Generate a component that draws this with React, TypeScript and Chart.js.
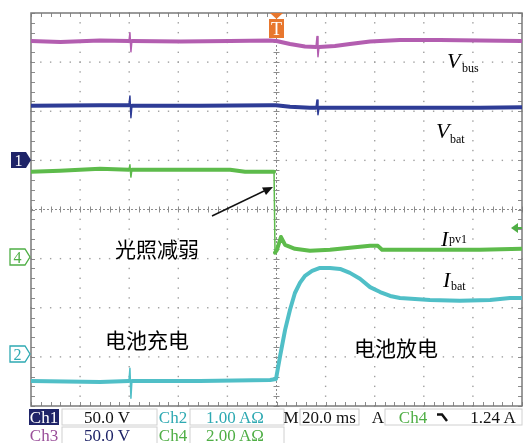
import React, { useEffect, useRef } from "react";
import { Chart, registerables } from "chart.js";

Chart.register(...registerables);

// Oscilloscope time base: 20 ms / div, 10 divisions, trigger at 0 ms
const timePerDivMs = 20;
const timeMinMs = -100;
const timeMaxMs = 100;
const verticalDivisions = 8;

// Vbus (Ch3) — screen divisions from bottom
const vbusTime = [-100, -88, -72, -60.1, -59.7, -59.3, -58.9, -39, -19, -2.6, 0, 5.5, 11.6, 16.1, 16.5, 16.9, 17.3, 23.8, 29.9, 38.1, 50.3, 66.6, 82.9, 100];
const vbusDiv = [7.43, 7.41, 7.44, 7.43, 7.6, 7.21, 7.43, 7.42, 7.43, 7.44, 7.43, 7.37, 7.32, 7.31, 7.52, 7.11, 7.31, 7.33, 7.37, 7.42, 7.45, 7.45, 7.44, 7.43];

// Vbat (Ch1)
const vbatTime = [-100, -71.9, -60.1, -59.7, -59.3, -58.9, -31.2, -2.6, -0.2, 5.5, 13.6, 16.1, 16.5, 16.9, 17.3, 34.0, 58.4, 82.9, 100];
const vbatDiv = [6.11, 6.12, 6.12, 6.31, 5.87, 6.11, 6.11, 6.12, 6.12, 6.09, 6.07, 6.07, 6.23, 5.93, 6.07, 6.07, 6.07, 6.07, 6.08];

// Ipv1 (Ch4)
const ipv1Time = [-100, -88.2, -71.9, -60.1, -59.7, -59.3, -58.9, -39.3, -18.9, -12.8, -2.6, -1.0, -0.6, 0.2, 1.8, 3.5, 7.5, 13.6, 21.8, 29.9, 38.1, 41.3, 43.0, 58.4, 82.9, 100];
const ipv1Div = [4.77, 4.79, 4.83, 4.81, 4.91, 4.66, 4.81, 4.81, 4.81, 4.77, 4.77, 4.77, 3.12, 3.18, 3.44, 3.28, 3.2, 3.16, 3.18, 3.22, 3.26, 3.26, 3.18, 3.18, 3.18, 3.2];

// Ibat (Ch2)
const ibatTime = [-100, -71.9, -60.1, -59.7, -59.3, -58.9, -31.2, -2.6, -0.2, 1.4, 3.5, 5.5, 7.5, 9.6, 11.6, 14.5, 17.7, 21.8, 25.9, 29.9, 34.0, 38.1, 42.2, 46.3, 50.3, 62.5, 74.7, 87.0, 95.1, 100];
const ibatDiv = [0.51, 0.49, 0.51, 0.77, 0.16, 0.51, 0.51, 0.53, 0.55, 1.0, 1.55, 1.96, 2.3, 2.51, 2.65, 2.75, 2.81, 2.81, 2.79, 2.71, 2.59, 2.42, 2.32, 2.24, 2.2, 2.16, 2.14, 2.16, 2.2, 2.2];

const traceColors = { vbus: "#b35eb0", vbat: "#2e3c96", ipv1: "#5dbb4b", ibat: "#50bfc7" };

const pts = (t: number[], v: number[]) => t.map((x, i) => ({ x, y: v[i] }));

const gridPlugin = {
  id: "scopeGrid",
  beforeDatasetsDraw(chart: any) {
    const { ctx, chartArea } = chart;
    const { left, top, right, bottom } = chartArea;
    const xs = chart.scales.x;
    const ys = chart.scales.y;
    const nx = (timeMaxMs - timeMinMs) / timePerDivMs;
    ctx.save();
    ctx.fillStyle = "#a0a0a0";
    for (let i = 1; i < nx; i++) {
      if (i === nx / 2) continue;
      const px = xs.getPixelForValue(timeMinMs + i * timePerDivMs);
      for (let k = 0; k <= verticalDivisions * 5; k++) {
        const py = ys.getPixelForValue(k * 0.2);
        ctx.fillRect(px - 0.7, py - 0.7, 1.4, 1.4);
      }
    }
    for (let j = 1; j < verticalDivisions; j++) {
      if (j === verticalDivisions / 2) continue;
      const py = ys.getPixelForValue(j);
      for (let k = 0; k <= nx * 5; k++) {
        const px = xs.getPixelForValue(timeMinMs + k * (timePerDivMs / 5));
        ctx.fillRect(px - 0.7, py - 0.7, 1.4, 1.4);
      }
    }
    const cx = xs.getPixelForValue(0);
    const cy = ys.getPixelForValue(verticalDivisions / 2);
    ctx.strokeStyle = "#8c8c8c";
    ctx.lineWidth = 1;
    ctx.beginPath();
    for (let k = 0; k <= nx * 5; k++) {
      const px = Math.round(xs.getPixelForValue(timeMinMs + k * (timePerDivMs / 5))) + 0.5;
      ctx.moveTo(px, cy - 3);
      ctx.lineTo(px, cy + 3);
      ctx.moveTo(px, top);
      ctx.lineTo(px, top + 4);
      ctx.moveTo(px, bottom - 4);
      ctx.lineTo(px, bottom);
    }
    for (let k = 0; k <= verticalDivisions * 5; k++) {
      const py = Math.round(ys.getPixelForValue(k * 0.2)) + 0.5;
      ctx.moveTo(cx - 3, py);
      ctx.lineTo(cx + 3, py);
      ctx.moveTo(left, py);
      ctx.lineTo(left + 4, py);
      ctx.moveTo(right - 4, py);
      ctx.lineTo(right, py);
    }
    ctx.stroke();
    ctx.setLineDash([2, 2]);
    ctx.beginPath();
    ctx.moveTo(left, cy);
    ctx.lineTo(right, cy);
    ctx.moveTo(cx, top);
    ctx.lineTo(cx, bottom);
    ctx.stroke();
    ctx.setLineDash([]);
    ctx.strokeStyle = "#7a7a7a";
    ctx.lineWidth = 1.5;
    ctx.strokeRect(left, top, right - left, bottom - top);
    ctx.restore();
  },
};

const serif = "'Liberation Serif', 'DejaVu Serif', serif";
const cjk = "'Noto Sans CJK SC', sans-serif";

export default function App() {
  const canvasRef = useRef<HTMLCanvasElement | null>(null);

  useEffect(() => {
    if (!canvasRef.current) return;
    const mk = (label: string, t: number[], v: number[], color: string) => ({
      label,
      data: pts(t, v),
      borderColor: color,
      backgroundColor: color,
      borderWidth: 4,
      pointRadius: 0,
      tension: 0,
      fill: false,
      borderJoinStyle: "round" as const,
      borderCapStyle: "round" as const,
      segment: {
        borderWidth: (c: any) => (Math.abs(c.p1.parsed.x - c.p0.parsed.x) < 0.5 ? 1.5 : 4),
      },
    });
    const chart = new Chart(canvasRef.current, {
      type: "line",
      data: {
        datasets: [
          mk("Vbus", vbusTime, vbusDiv, traceColors.vbus),
          mk("Vbat", vbatTime, vbatDiv, traceColors.vbat),
          mk("Ipv1", ipv1Time, ipv1Div, traceColors.ipv1),
          mk("Ibat", ibatTime, ibatDiv, traceColors.ibat),
        ],
      },
      options: {
        responsive: false,
        animation: false,
        devicePixelRatio: 1,
        layout: { padding: { left: 31, top: 13, right: 3, bottom: 37 } },
        scales: {
          x: { type: "linear", min: timeMinMs, max: timeMaxMs, display: false },
          y: { type: "linear", min: 0, max: verticalDivisions, display: false },
        },
        plugins: { legend: { display: false }, tooltip: { enabled: false } },
      },
      plugins: [gridPlugin],
    });
    return () => chart.destroy();
  }, []);

  const green = "#4fae45";
  const cyan = "#2ea9b2";
  const navy = "#1f2468";
  const purple = "#9a4f9a";
  const orange = "#e8772e";

  return (
    <div style={{ position: "absolute", left: 0, top: 0, width: 525, height: 443, background: "#fff", overflow: "hidden" }}>
      <canvas ref={canvasRef} width={525} height={443} style={{ position: "absolute", left: 0, top: 0 }} />
      <svg width={525} height={443} style={{ position: "absolute", left: 0, top: 0, pointerEvents: "none" }}>
        <path d="M11,152 H26 L31,160 L26,168 H11 Z" fill={navy} />
        <text x={18.5} y={166} fill="#fff" fontFamily={serif} fontSize={16} textAnchor="middle">1</text>
        <path d="M10,249 H25 L30,257 L25,265 H10 Z" fill="#fff" stroke={green} strokeWidth={1.3} />
        <text x={17.5} y={263} fill={green} fontFamily={serif} fontSize={16} textAnchor="middle">4</text>
        <path d="M10,346 H25 L30,354 L25,362 H10 Z" fill="#fff" stroke={cyan} strokeWidth={1.3} />
        <text x={17.5} y={360} fill={cyan} fontFamily={serif} fontSize={16} textAnchor="middle">2</text>
        <path d="M511,228 L518,223 L518,233 Z" fill={green} />
        <line x1={517} y1={228} x2={522} y2={228} stroke={green} strokeWidth={2} />
        <path d="M270,13 L283,13 L276.5,19 Z" fill={orange} />
        <rect x={269} y={19} width={15} height={19} fill={orange} />
        <text x={276.5} y={35} fill="#fff" fontFamily={serif} fontSize={18} textAnchor="middle">T</text>

        <text x={447} y={68} fontFamily={serif} fontSize={22} fontStyle="italic">V</text>
        <text x={462} y={72} fontFamily={serif} fontSize={12}>bus</text>
        <text x={436} y={138} fontFamily={serif} fontSize={22} fontStyle="italic">V</text>
        <text x={450} y={143} fontFamily={serif} fontSize={12}>bat</text>
        <text x={441} y={246} fontFamily={serif} fontSize={22} fontStyle="italic">I</text>
        <text x={449} y={243} fontFamily={serif} fontSize={12}>pv1</text>
        <text x={443} y={287} fontFamily={serif} fontSize={22} fontStyle="italic">I</text>
        <text x={451} y={290} fontFamily={serif} fontSize={12}>bat</text>

        <text x={115} y={257} fontFamily={cjk} fontSize={21}>光照减弱</text>
        <text x={105} y={348} fontFamily={cjk} fontSize={21}>电池充电</text>
        <text x={354} y={356} fontFamily={cjk} fontSize={21}>电池放电</text>
        <line x1={212} y1={216} x2={264} y2={191} stroke="#111" strokeWidth={1.5} />
        <path d="M273,187 L262,187.5 L266,195 Z" fill="#111" />

        <rect x={29} y={409} width={30} height={16} fill={navy} />
        <text x={44} y={423} fill="#fff" fontFamily={serif} fontSize={17} textAnchor="middle">Ch1</text>
        <rect x={62} y={409} width={95} height={16} fill="#fff" stroke="#d0d0d0" />
        <text x={107} y={423} fill="#111" fontFamily={serif} fontSize={17} textAnchor="middle">50.0 V</text>
        <text x={173} y={423} fill={cyan} fontFamily={serif} fontSize={17} textAnchor="middle">Ch2</text>
        <rect x={190} y={409} width={94} height={16} fill="#fff" stroke="#d0d0d0" />
        <text x={235} y={423} fill={cyan} fontFamily={serif} fontSize={17} textAnchor="middle">1.00 AΩ</text>
        <text x={291} y={423} fill="#111" fontFamily={serif} fontSize={17} textAnchor="middle">M</text>
        <rect x={300} y={409} width={59} height={16} fill="#fff" stroke="#c8c8c8" />
        <text x={329} y={423} fill="#111" fontFamily={serif} fontSize={17} textAnchor="middle">20.0 ms</text>
        <text x={378} y={423} fill="#111" fontFamily={serif} fontSize={17} textAnchor="middle">A</text>
        <rect x={385} y={409} width={137} height={16} fill="#fff" stroke="#d0d0d0" />
        <text x={413} y={423} fill={green} fontFamily={serif} fontSize={17} textAnchor="middle">Ch4</text>
        <path d="M437,414.5 H442 L447,421" fill="none" stroke="#111" strokeWidth={2.5} />
        <text x={493} y={423} fill="#111" fontFamily={serif} fontSize={17} textAnchor="middle">1.24 A</text>

        <text x={44} y={441} fill={purple} fontFamily={serif} fontSize={17} textAnchor="middle">Ch3</text>
        <rect x={62} y={427} width={95} height={18} fill="#fff" stroke="#d0d0d0" />
        <text x={107} y={441} fill={navy} fontFamily={serif} fontSize={17} textAnchor="middle">50.0 V</text>
        <text x={173} y={441} fill={green} fontFamily={serif} fontSize={17} textAnchor="middle">Ch4</text>
        <rect x={190} y={427} width={94} height={18} fill="#fff" stroke="#d0d0d0" />
        <text x={235} y={441} fill={green} fontFamily={serif} fontSize={17} textAnchor="middle">2.00 AΩ</text>
      </svg>
    </div>
  );
}
